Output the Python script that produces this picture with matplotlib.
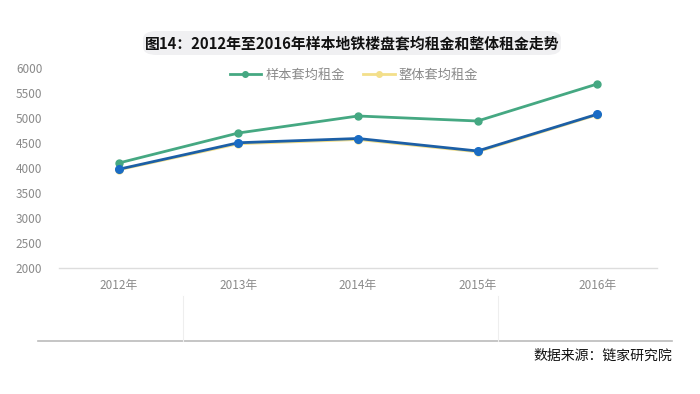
import matplotlib
matplotlib.use("Agg")
import matplotlib.pyplot as plt
from matplotlib.lines import Line2D
from matplotlib.patches import FancyBboxPatch

plt.rcParams['font.family'] = ['Noto Sans CJK SC', 'DejaVu Sans']

years = ['2012年', '2013年', '2014年', '2015年', '2016年']
sample_rent = [4100, 4700, 5040, 4940, 5680]      # 样本套均租金
overall_rent = [3965, 4485, 4570, 4325, 5065]     # 整体套均租金 (yellow, mostly hidden)
overall_rent_blue = [3975, 4505, 4590, 4340, 5075]  # blue overlay line
yticks = [2000, 2500, 3000, 3500, 4000, 4500, 5000, 5500, 6000]

title = '图14：2012年至2016年样本地铁楼盘套均租金和整体租金走势'
source = '数据来源：链家研究院'

fig = plt.figure(figsize=(7, 3.94), dpi=100)
ax = fig.add_axes([59/700, 1-268/394, (657-59)/700, 200/394])

x = list(range(len(years)))
green = '#45A882'
yellow = '#F3DF8A'
blue = '#1C5FA6'

ax.plot(x, sample_rent, color=green, lw=2.0, marker='o', ms=5, zorder=3)
ax.plot(x, overall_rent, color=yellow, lw=2.0, marker='o', ms=5, zorder=2)
ax.plot(x, overall_rent_blue, color=blue, lw=2.0, marker='o', ms=5.5,
        markerfacecolor='#1A6CC4', markeredgecolor='#1A6CC4', zorder=4)

ax.set_xlim(-0.5, len(years) - 0.5)
ax.set_ylim(2000, 6000)
ax.set_yticks(yticks)
ax.set_yticklabels([str(v) for v in yticks], color='#8a8a8a', fontsize=8.5)
ax.set_xticks(x)
ax.set_xticklabels(years, color='#8a8a8a', fontsize=8.5)
ax.tick_params(axis='both', length=0)
ax.tick_params(axis='y', pad=12)
ax.tick_params(axis='x', pad=8)
for s in ['top', 'right', 'left']:
    ax.spines[s].set_visible(False)
ax.spines['bottom'].set_color('#dddddd')
ax.spines['bottom'].set_linewidth(1.0)

handles = [
    Line2D([0], [0], color=green, lw=2.0, marker='o', ms=4),
    Line2D([0], [0], color=yellow, lw=2.0, marker='o', ms=4),
]
leg = fig.legend(handles, ['样本套均租金', '整体套均租金'], loc='center',
                 bbox_to_anchor=(354/700, 1-75/394), ncol=2, frameon=False,
                 fontsize=9.5, handlelength=2.4, columnspacing=1.4,
                 handletextpad=0.3)
for t in leg.get_texts():
    t.set_color('#8a8a8a')

# title with light rounded background
bg = FancyBboxPatch((143/700, 1-55/394), 418/700, 24/394,
                    boxstyle='round,pad=0,rounding_size=0.02',
                    transform=fig.transFigure, facecolor='#f0f0f2',
                    edgecolor='none', zorder=0)
fig.patches.append(bg)
fig.text(352/700, 1-43/394, title, ha='center', va='center',
         fontsize=10.7, fontweight='bold', color='#111111')

# bottom decorations
fig.add_artist(Line2D([38/700, 672/700], [1-341/394, 1-341/394],
                      transform=fig.transFigure, color='#bbbbbb', lw=1.2))
fig.add_artist(Line2D([183/700, 183/700], [1-296/394, 1-341/394],
                      transform=fig.transFigure, color='#eeeeee', lw=0.8))
fig.add_artist(Line2D([498/700, 498/700], [1-296/394, 1-341/394],
                      transform=fig.transFigure, color='#eeeeee', lw=0.8))
fig.text(672/700, 1-356/394, source, ha='right', va='center',
         fontsize=10, color='#111111')

fig.savefig('out.png', dpi=100)
